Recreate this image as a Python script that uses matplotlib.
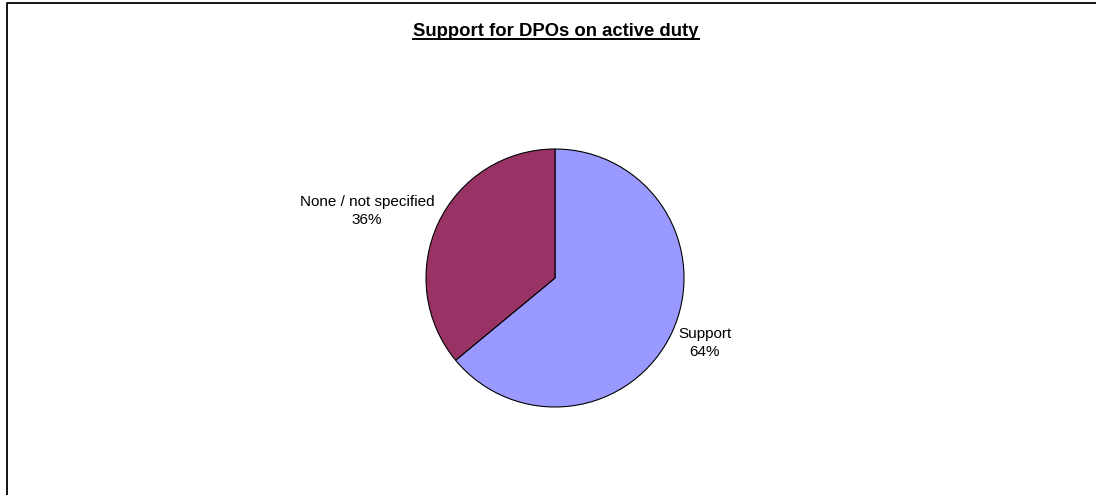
import matplotlib.pyplot as plt
from matplotlib.lines import Line2D

plt.rcParams['font.family'] = ['Liberation Sans', 'DejaVu Sans']

labels = ['Support', 'None / not specified']
values = [64, 36]
colors = ['#9999FF', '#993366']

W, H = 1096, 495
fig = plt.figure(figsize=(W / 100, H / 100), dpi=100)
ax = fig.add_axes([0, 0, 1, 1])

cx, cy, r = 555, H - 278, 129
ax.pie(values, colors=colors, startangle=90, counterclock=False,
       center=(cx, cy), radius=r, frame=True,
       wedgeprops=dict(edgecolor='black', linewidth=0.8))
ax.set_xlim(0, W)
ax.set_ylim(0, H)
ax.axis('off')

# data labels, placed the way Excel does
lab_pos = [(705, H - 343), (367, H - 211)]
for (x, y), lab, v in zip(lab_pos, labels, values):
    ax.text(x, y, '{}\n{}%'.format(lab, v), ha='center', va='center',
            fontsize=11, color='black', linespacing=1.45)

# title with underline
t = fig.text(556 / W, 1 - 31 / H, 'Support for DPOs on active duty',
             ha='center', va='center', fontsize=13.3, fontweight='bold')
fig.canvas.draw()
bb = t.get_window_extent()
uy = bb.y0 + 1
fig.add_artist(Line2D([bb.x0 / W, bb.x1 / W], [uy / H, uy / H],
                      transform=fig.transFigure, color='black', lw=1.4))

# chart area border (cut at right/bottom)
fig.add_artist(Line2D([7 / W, 7 / W, 1.0], [0.0, 1 - 3 / H, 1 - 3 / H],
                      transform=fig.transFigure, color='black', lw=1.3))

fig.savefig('out.png', dpi=100, facecolor='white')
